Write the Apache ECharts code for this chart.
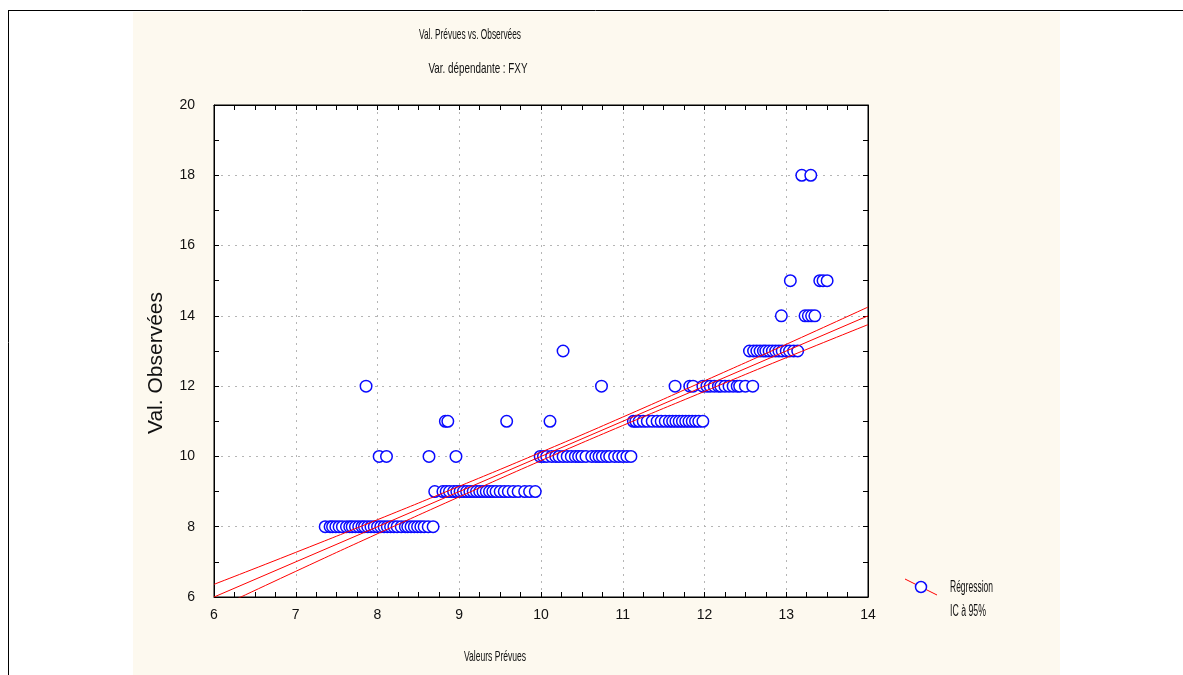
<!DOCTYPE html>
<html>
<head>
<meta charset="utf-8">
<script src="https://cdn.jsdelivr.net/npm/echarts@6/dist/echarts.min.js"></script>
<style>
html,body{margin:0;padding:0;background:#fff;}
#c{width:1183px;height:675px;}
</style>
</head>
<body>
<div id="c"></div>
<script>
// Predicted values (x) grouped by observed value (y)
const obs8  = [7.36,7.42,7.45,7.49,7.53,7.57,7.62,7.66,7.69,7.73,7.77,7.81,7.84,7.88,7.92,7.96,8.00,8.04,8.08,8.12,8.16,8.20,8.24,8.29,8.34,8.37,8.41,8.45,8.49,8.53,8.57,8.62,8.68];
const obs9  = [8.70,8.80,8.84,8.88,8.93,8.97,9.01,9.05,9.09,9.13,9.17,9.21,9.25,9.29,9.33,9.37,9.41,9.45,9.50,9.55,9.60,9.66,9.72,9.80,9.86,9.93];
const obs10 = [8.02,8.11,8.63,8.96,9.99,10.03,10.07,10.13,10.18,10.22,10.27,10.32,10.37,10.42,10.46,10.50,10.55,10.62,10.67,10.71,10.75,10.80,10.84,10.90,10.95,11.00,11.05,11.10];
const obs11 = [8.83,8.86,9.58,10.11,11.13,11.16,11.20,11.25,11.30,11.36,11.42,11.47,11.52,11.57,11.61,11.65,11.69,11.73,11.77,11.81,11.85,11.89,11.93,11.98];
const obs12 = [7.86,10.74,11.64,11.82,11.86,11.98,12.03,12.07,12.12,12.17,12.20,12.25,12.30,12.35,12.40,12.43,12.50,12.59];
const obs13 = [10.27,12.55,12.60,12.64,12.68,12.72,12.75,12.79,12.83,12.87,12.91,12.95,13.00,13.04,13.09,13.14];
const obs14 = [12.94,13.23,13.27,13.31,13.35];
const obs15 = [13.05,13.41,13.45,13.50];
const obs18 = [13.19,13.30];

// Regression line and 95% confidence band
const regX    = [6, 14];
const regY    = [6, 14];
const ciX     = [6, 7, 8, 9, 10, 11, 12, 13, 14];
const ciUpper = [6.36, 7.27, 8.20, 9.15, 10.12, 11.12, 12.15, 13.19, 14.25];
const ciLower = [5.64, 6.73, 7.80, 8.85, 9.88, 10.88, 11.85, 12.81, 13.75];

// Texts
const title1 = 'Val. Prévues vs. Observées';
const title2 = 'Var. dépendante : FXY';
const xName = 'Valeurs Prévues';
const yName = 'Val. Observées';
const legendLines = ['Régression', 'IC à 95%'];

const groups = [[8,obs8],[9,obs9],[10,obs10],[11,obs11],[12,obs12],[13,obs13],[14,obs14],[15,obs15],[18,obs18]];
const scatterData = [];
groups.forEach(([y, xs]) => xs.forEach(x => scatterData.push([x, y])));

const FONT = '"Liberation Sans",Arial,sans-serif';
const BLUE = '#0a0aff';
const RED = '#ff0000';

// narrow text: scale horizontally to the target width
const mctx = document.createElement('canvas').getContext('2d');
function narrowText(text, cx, cy, size, targetWidth, align) {
  mctx.font = size + 'px ' + FONT;
  const w = mctx.measureText(text).width;
  return {type:'text', x:cx, y:cy, scaleX: targetWidth / w, z:50,
    style:{text:text, fontFamily:FONT, fontSize:size, fill:'#111',
      textAlign: align || 'center', textVerticalAlign:'middle'}};
}

const chart = echarts.init(document.getElementById('c'));
const tickStyle = {show:true, inside:true, length:5, lineStyle:{color:'#000', width:1}};
const minorStyle = {show:true, length:5, lineStyle:{color:'#000', width:1}};
const labelStyle = {fontFamily:FONT, fontSize:14, color:'#111'};

chart.setOption({
  backgroundColor: '#ffffff',
  animation: false,
  graphic: [
    {type:'rect', z:-100, shape:{x:133, y:12, width:927, height:663}, style:{fill:'#fdf9ef'}},
    {type:'line', z:-99, shape:{x1:8, y1:10.5, x2:1183, y2:10.5}, style:{stroke:'#000', lineWidth:1}},
    {type:'line', z:-99, shape:{x1:8.5, y1:10, x2:8.5, y2:675}, style:{stroke:'#000', lineWidth:1}},
    narrowText(title1, 470, 35, 15, 102),
    narrowText(title2, 478, 69, 15, 99),
    narrowText(xName, 495, 657, 15, 62),
    narrowText(legendLines[0], 950, 588, 16, 43, 'left'),
    narrowText(legendLines[1], 950, 612, 16, 36, 'left'),
    {type:'text', x:156, y:363, rotation:Math.PI/2, z:50,
     style:{text:yName, fontFamily:FONT, fontSize:21, fill:'#111', textAlign:'center', textVerticalAlign:'middle'}},
    {type:'line', z:50, shape:{x1:905, y1:579, x2:937, y2:595}, style:{stroke:RED, lineWidth:1}},
    {type:'circle', z:51, shape:{cx:921, cy:587, r:5.5}, style:{fill:'#fff', stroke:BLUE, lineWidth:1.5}}
  ],
  grid: {left:214, right:315, top:105, bottom:78, show:true, backgroundColor:'#ffffff', borderColor:'#000', borderWidth:1},
  xAxis: [{
    type:'value', min:6, max:14, interval:1, position:'bottom',
    axisLine:{show:true, onZero:false, lineStyle:{color:'#000'}},
    axisTick:tickStyle,
    minorTick:Object.assign({splitNumber:4}, minorStyle),
    axisLabel:Object.assign({margin:11}, labelStyle),
    splitLine:{show:true, lineStyle:{color:'#b5b5b5', type:[2,5], width:1}}
  },{
    type:'value', min:6, max:14, interval:1, position:'top',
    axisLine:{show:true, onZero:false, lineStyle:{color:'#000'}},
    axisTick:tickStyle,
    minorTick:Object.assign({splitNumber:4}, minorStyle),
    axisLabel:{show:false}, splitLine:{show:false}
  }],
  yAxis: [{
    type:'value', min:6, max:20, interval:2, position:'left',
    axisLine:{show:true, onZero:false, lineStyle:{color:'#000'}},
    axisTick:tickStyle,
    minorTick:Object.assign({splitNumber:2}, minorStyle),
    axisLabel:Object.assign({margin:19}, labelStyle),
    splitLine:{show:true, lineStyle:{color:'#b5b5b5', type:[2,5], width:1}}
  },{
    type:'value', min:6, max:20, interval:2, position:'right',
    axisLine:{show:true, onZero:false, lineStyle:{color:'#000'}},
    axisTick:tickStyle,
    minorTick:Object.assign({splitNumber:2}, minorStyle),
    axisLabel:{show:false}, splitLine:{show:false}
  }],
  series: [
    {type:'scatter', xAxisIndex:0, yAxisIndex:0, data:scatterData, symbol:'circle', symbolSize:11.5,
     itemStyle:{color:'#ffffff', borderColor:BLUE, borderWidth:1.5, opacity:1}, z:3},
    {type:'line', xAxisIndex:0, yAxisIndex:0, data:regX.map((x,i)=>[x,regY[i]]), showSymbol:false, symbol:'none',
     lineStyle:{color:RED, width:1}, z:4, clip:true},
    {type:'line', xAxisIndex:0, yAxisIndex:0, data:ciX.map((x,i)=>[x,ciUpper[i]]), showSymbol:false, symbol:'none', smooth:true,
     lineStyle:{color:RED, width:1}, z:4, clip:true},
    {type:'line', xAxisIndex:0, yAxisIndex:0, data:ciX.map((x,i)=>[x,ciLower[i]]), showSymbol:false, symbol:'none', smooth:true,
     lineStyle:{color:RED, width:1}, z:4, clip:true}
  ]
});
</script>
</body>
</html>
